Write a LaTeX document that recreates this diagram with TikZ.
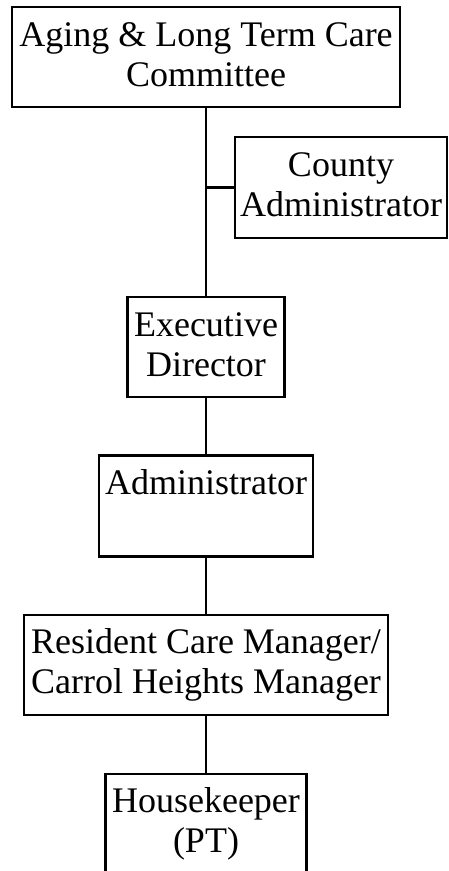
\documentclass[tikz,border=0pt]{standalone}
\usepackage{fontspec}
\setmainfont{Liberation Serif}
\usetikzlibrary{positioning}

\begin{document}
\begin{tikzpicture}[
  x=1pt, y=1pt, line width=2.2pt,
  font=\fontsize{36}{40}\selectfont,
  box/.style={draw, align=center, inner sep=0pt, minimum height=100pt,
              text height=66pt, text depth=8pt}
]
\useasboundingbox (0,0) rectangle (448,-871);
\node[box, minimum width=388pt] (committee) at (206,-57)
  {Aging \& Long Term Care\\Committee};
\node[box, minimum width=212pt, minimum height=101pt] (county) at (341,-187.5)
  {County\\Administrator};
\node[box, minimum width=157pt, below=188pt of committee] (execdir)
  {Executive\\Director};
\node[box, minimum width=214pt, minimum height=101pt, below=56pt of execdir] (admin)
  {Administrator\\\mbox{}};
\node[box, minimum width=364pt, below=56pt of admin] (rcm)
  {Resident Care Manager/\\Carrol Heights Manager};
\node[box, minimum width=201pt, below=57pt of rcm] (housekeeper)
  {Housekeeper\\(PT)};
\coordinate (branch) at (committee.south |- county.west);
\draw (committee) -- (execdir);
\draw (branch) -- (county);
\draw (execdir) -- (admin);
\draw (admin) -- (rcm);
\draw (rcm) -- (housekeeper);
\end{tikzpicture}
\end{document}
